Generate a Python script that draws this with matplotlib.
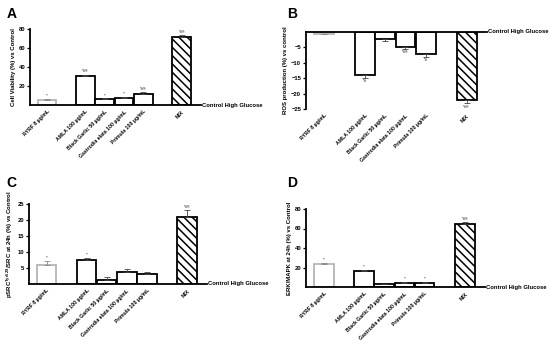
import matplotlib
matplotlib.use("Agg")
import matplotlib.pyplot as plt
import numpy as np

plt.rcParams['font.family'] = ['Liberation Sans', 'DejaVu Sans']
plt.rcParams['hatch.linewidth'] = 1.1

categories = ["RYRF 8 µg/mL", "AMLA 100 µg/mL", "Black Garlic 50 µg/mL",
              "Gastrodia elata 100 µg/mL", "Primula 100 µg/mL", "MIX"]
positions = [0, 2, 3, 4, 5, 7]

viability = [5, 30.5, 6, 7.5, 12, 71.5]
viability_err = [1.2, 1.5, 1.0, 1.0, 1.5, 2.0]
viability_sig = ["*", "*#§", "*", "*", "*#§", "*#§"]

ros = [-0.5, -13.8, -2.2, -5.0, -7.0, -22.2]
ros_err = [0.3, 1.2, 0.8, 0.5, 1.0, 1.0]
ros_sig = ["", "*#", "", "*#§", "*#", "*#§"]

psrc = [5.8, 7.4, 1.4, 3.8, 3.1, 21.0]
psrc_err = [1.3, 0.8, 0.8, 0.8, 0.5, 2.0]
psrc_sig = ["*", "*", "", "", "", "*#§"]

erk = [23.5, 16.0, 3.0, 4.5, 4.5, 64.5]
erk_err = [1.5, 1.5, 0.5, 1.0, 1.0, 2.0]
erk_sig = ["*", "*", "", "*", "*", "*#§"]

W, H = 550, 345
panels = [
    ("A", viability, viability_err, viability_sig, "Cell Viability (%) vs Control",
     (0, 80), [20, 40, 60, 80], [30/W, 1-105/H, 171/W, 76/H], (7, 7)),
    ("B", ros, ros_err, ros_sig, "ROS production (%) vs control",
     (-25, 0), [-25, -20, -15, -10, -5], [306/W, 1-109/H, 181/W, 77/H], (287, 7)),
    ("C", psrc, psrc_err, psrc_sig, r"pSRC$^{\mathregular{Tyr529}}$/SRC at 24h (%) vs Control",
     (0, 25), [5, 10, 15, 20, 25], [29/W, 1-284/H, 178/W, 80/H], (6, 176)),
    ("D", erk, erk_err, erk_sig, "ERK/MAPK at 24h (%) vs Control",
     (0, 80), [20, 40, 60, 80], [306/W, 1-287/H, 179/W, 78/H], (287, 176)),
]

fig = plt.figure(figsize=(5.5, 3.45), dpi=100)

for letter, vals, errs, sigs, ylabel, ylim, yticks, rect, lpos in panels:
    ax = fig.add_axes(rect)
    neg = ylim[1] == 0
    for i, (p, v, e, s) in enumerate(zip(positions, vals, errs, sigs)):
        ec = "#b5b5b5" if i == 0 else "black"
        hatch = "\\\\\\\\" if i == 5 else None
        ax.bar(p, v, width=0.97, facecolor="white", edgecolor=ec, linewidth=1.3,
               hatch=hatch, zorder=2)
        sign = -1 if neg else 1
        ax.errorbar(p, v, yerr=[[0], [e]] if not neg else [[e], [0]], fmt="none",
                    ecolor="#888888" if i == 0 else "#444444", elinewidth=0.6,
                    capsize=2.5, capthick=0.6, zorder=3)
        if s:
            rng = ylim[1] - ylim[0]
            yy = v + sign * (e + 0.015 * rng)
            ax.text(p, yy, s, ha="center", va="bottom" if not neg else "top",
                    fontsize=3.2, color="#555555", fontweight="bold")
    ax.set_xlim(-0.88, 8.0)
    ax.set_ylim(*ylim)
    ax.set_yticks(yticks)
    ax.tick_params(axis="y", labelsize=4.2, length=2.5, width=0.9, pad=1)
    for lbl in ax.get_yticklabels():
        lbl.set_fontweight("bold")
    ax.set_xticks(positions)
    ax.set_xticklabels(categories, rotation=45, ha="right", rotation_mode="anchor",
                       fontsize=3.7, fontweight="bold")
    ax.tick_params(axis="x", length=0, pad=3)
    ax.spines["right"].set_visible(False)
    ax.spines["left"].set_linewidth(1.3)
    if neg:
        ax.spines["bottom"].set_visible(False)
        ax.spines["top"].set_linewidth(1.3)
        yref = 1.0
    else:
        ax.spines["top"].set_visible(False)
        ax.spines["bottom"].set_linewidth(1.3)
        yref = 0.0
    ax.text(1.008, yref, "Control High Glucose", transform=ax.transAxes,
            ha="left", va="center", fontsize=4.2, fontweight="bold")
    ax.set_ylabel(ylabel, fontsize=4.3, fontweight="bold", labelpad=2)
    ax.patch.set_visible(False)
    fig.text(lpos[0] / W, 1 - lpos[1] / H, letter, fontsize=10, fontweight="bold",
             ha="left", va="top")

fig.savefig("out.png", dpi=100)
